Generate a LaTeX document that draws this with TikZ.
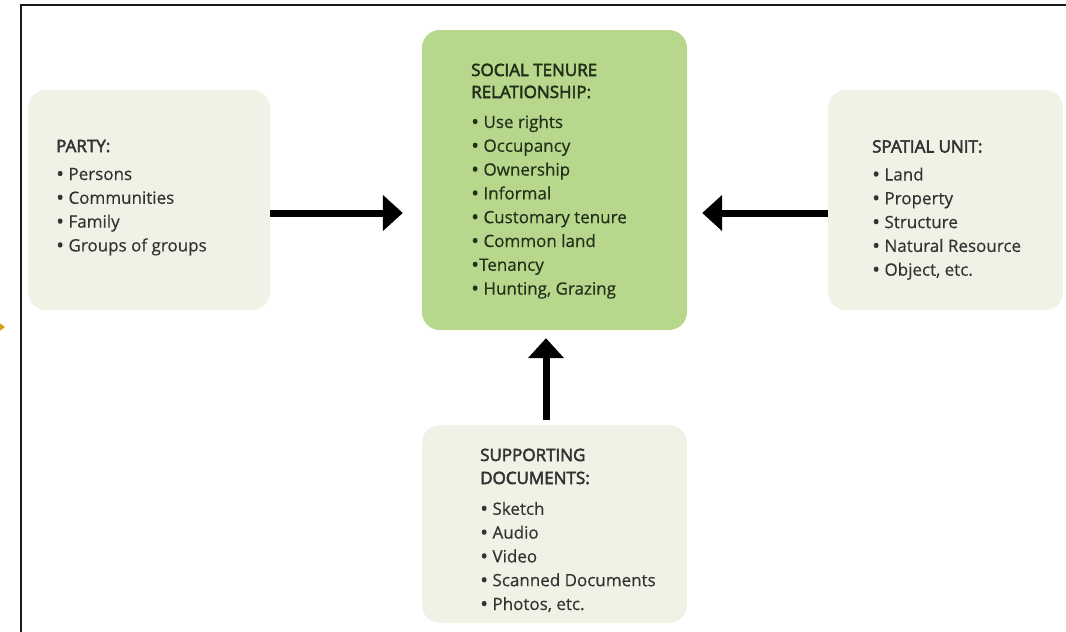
\documentclass[tikz,border=0pt]{standalone}
\usepackage{fontspec}
\setmainfont{Open Sans}
\newfontfamily\titlefont[FakeBold=3]{Open Sans}
\newfontfamily\bodyfont[FakeBold=0.4]{Open Sans}
\usetikzlibrary{arrows.meta}
\definecolor{lightbox}{HTML}{EEF3E6}
\definecolor{greenbox}{HTML}{B7D78D}
\definecolor{bodytext}{HTML}{333333}
\definecolor{titletext}{HTML}{222222}
\definecolor{greentext}{HTML}{22301A}
\definecolor{framecol}{HTML}{1A1A1A}
\definecolor{markcol}{HTML}{D9A21B}
\newcommand\boxlines[1]{\begin{tabular}[t]{@{}l@{}}#1\end{tabular}}
\newcommand\ttl[1]{{\titlefont\fontsize{17}{23.8}\selectfont #1}}
\newcommand\bul{\raisebox{-1.2pt}{\fontsize{21}{21}\selectfont•}}
\begin{document}
\begin{tikzpicture}[x=1pt,y=-1pt,
  panel/.style={rounded corners=18pt, draw=none, inner sep=0pt},
  lightpanel/.style={panel, fill=lightbox},
  greenpanel/.style={panel, fill=greenbox},
  boxtext/.style={anchor=base west, inner sep=0pt, font=\bodyfont\fontsize{17}{23.8}\selectfont, text=bodytext},
  bigarrow/.style={line width=7pt, draw=black, -{Triangle[length=20pt,width=35pt]}}
]
\useasboundingbox (0,0) rectangle (1066,632);
\begin{scope}
\clip (0,0) rectangle (1066,632);
\fill[markcol] (-3,321) -- (5,327) -- (-3,333) -- cycle;
\end{scope}
\draw[framecol, line width=2pt] (21,633) -- (21,5) -- (1067,5);

\node[lightpanel, minimum width=242pt, minimum height=220pt] (party) at (149,200) {};
\node[greenpanel, minimum width=265pt, minimum height=300pt] (str) at (554.5,180) {};
\node[lightpanel, minimum width=235pt, minimum height=220pt] (spatial) at (945.5,200) {};
\node[lightpanel, minimum width=265pt, minimum height=198pt] (supp) at (554.5,524) {};

\node[boxtext] (partytext) at (56,152) {\boxlines{\ttl{PARTY:}\\[4.2pt]
 \bul\ Persons\\ \bul\ Communities\\ \bul\ Family\\ \bul\ Groups of groups}};
\node[boxtext, text=greentext] (strtext) at (471,76) {\boxlines{\ttl{SOCIAL TENURE}\\[-1.8pt]
 \ttl{RELATIONSHIP:}\\[6.2pt]
 \bul\ Use rights\\ \bul\ Occupancy\\ \bul\ Ownership\\ \bul\ Informal\\ \bul\ Customary tenure\\ \bul\ Common land\\ \bul Tenancy\\ \bul\ Hunting, Grazing}};
\node[boxtext] (spatialtext) at (872,152.5) {\boxlines{\ttl{SPATIAL UNIT:}\\[4.2pt]
 \bul\ Land\\ \bul\ Property\\ \bul\ Structure\\ \bul\ Natural Resource\\ \bul\ Object, etc.}};
\node[boxtext] (supptext) at (480,461) {\boxlines{\ttl{SUPPORTING}\\[-0.8pt]
 \ttl{DOCUMENTS:}\\[7pt]
 \bul\ Sketch\\ \bul\ Audio\\ \bul\ Video\\ \bul\ Scanned Documents\\ \bul\ Photos, etc.}};

\draw[bigarrow, shorten >=19pt] ([yshift=-13pt]party.east) -- ([yshift=-13pt]party.east -| str.west);
\draw[bigarrow, shorten >=15pt] ([yshift=-13pt]spatial.west) -- ([yshift=-13pt]spatial.west -| str.east);
\draw[bigarrow, shorten <=5pt, shorten >=8pt] ([xshift=-8.5pt]supp.north) -- ([xshift=-8.5pt]str.south);
\end{tikzpicture}
\end{document}
